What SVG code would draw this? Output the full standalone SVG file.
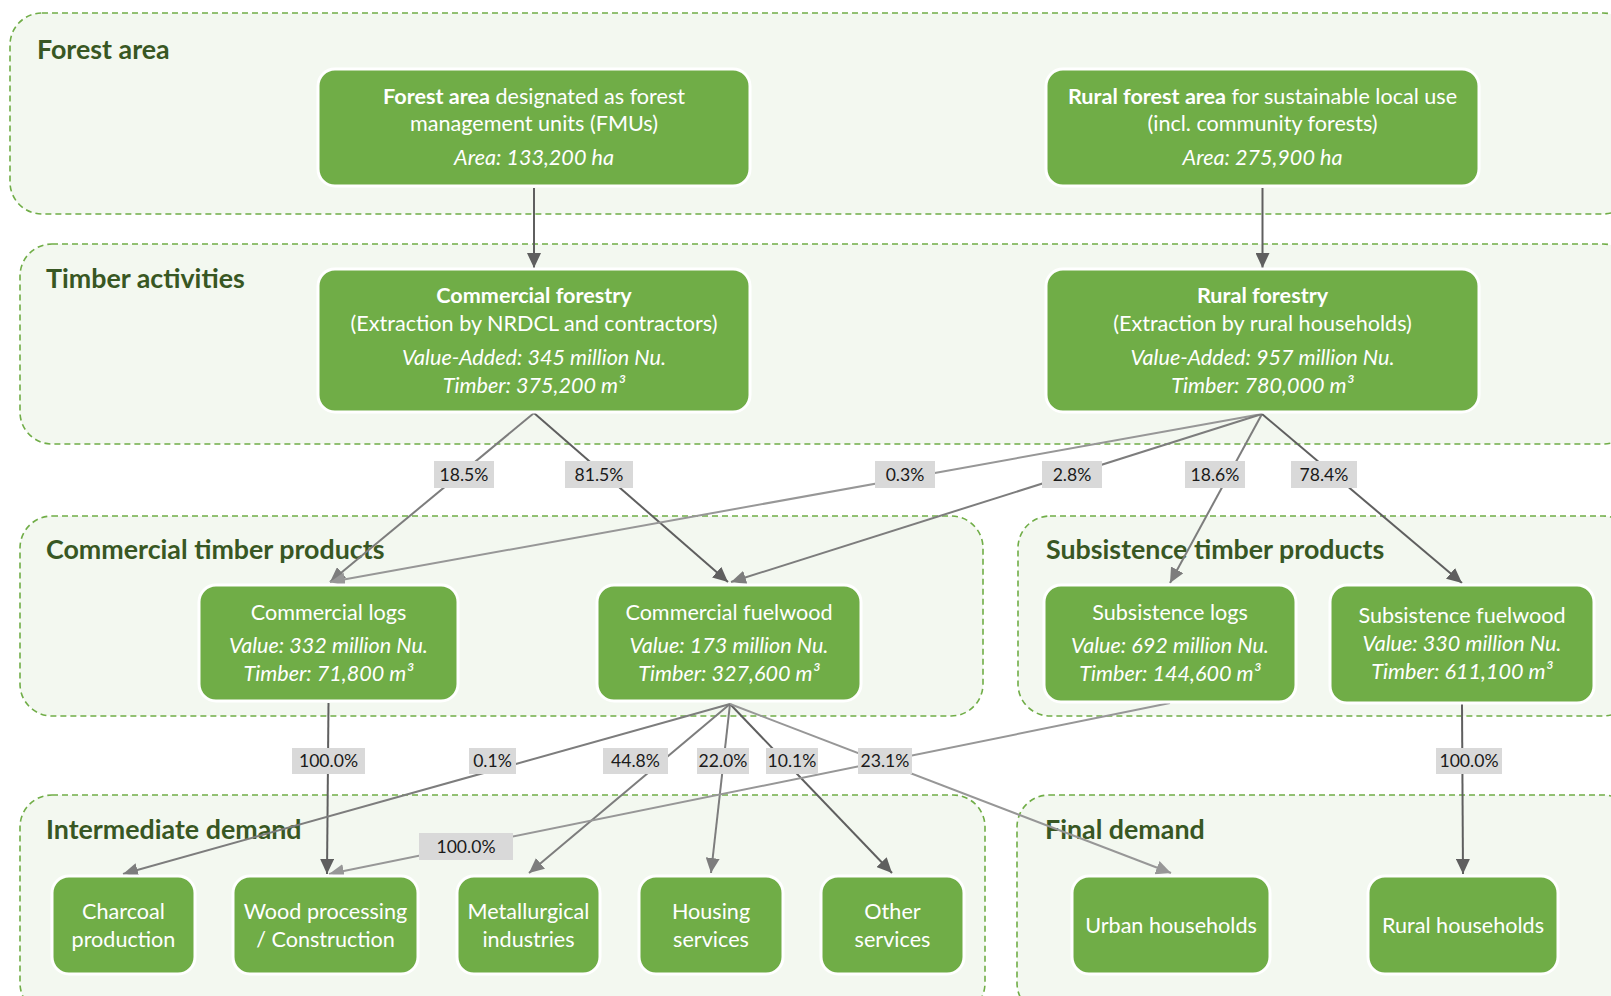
<svg xmlns="http://www.w3.org/2000/svg" width="1611" height="996" viewBox="0 0 1611 996">
<style>
.cont{fill:#f3f8f0;stroke:#70ad47;stroke-width:1.6;stroke-dasharray:6 4}
.title{font-family:Lato,"Liberation Sans",sans-serif;font-weight:bold;font-size:26.8px;fill:#385723}
.node rect{fill:#70ad47;stroke:#ffffff;stroke-width:3}
.nt{font-family:Lato,"Liberation Sans",sans-serif;font-size:21.6px;fill:#ffffff;text-anchor:middle}
.it{font-style:italic}
.b{font-weight:bold}
.lbl rect{fill:#d9d9d9}
.lbl text{font-family:Lato,"Liberation Sans",sans-serif;font-size:17.6px;fill:#1a1a1a;text-anchor:middle}
.dk{stroke:#5f5f5f;stroke-width:2;fill:none;marker-end:url(#ad)}
.md{stroke:#7d7d7d;stroke-width:2;fill:none;marker-end:url(#am)}
.lt{stroke:#979797;stroke-width:2;fill:none;marker-end:url(#al)}
</style>
<defs>
<marker id="ad" markerUnits="userSpaceOnUse" markerWidth="16" markerHeight="14" refX="15" refY="7" orient="auto"><path d="M0,0 L15,7 L0,14 z" fill="#5f5f5f"/></marker>
<marker id="am" markerUnits="userSpaceOnUse" markerWidth="16" markerHeight="14" refX="15" refY="7" orient="auto"><path d="M0,0 L15,7 L0,14 z" fill="#7d7d7d"/></marker>
<marker id="al" markerUnits="userSpaceOnUse" markerWidth="16" markerHeight="14" refX="15" refY="7" orient="auto"><path d="M0,0 L15,7 L0,14 z" fill="#979797"/></marker>
</defs>
<rect width="1611" height="996" fill="#ffffff"/>

<g id="containers">
<rect class="cont" x="10" y="13" width="1625" height="201" rx="32"/>
<rect class="cont" x="20" y="244" width="1615" height="200" rx="32"/>
<rect class="cont" x="20" y="516" width="963" height="200" rx="32"/>
<rect class="cont" x="1018" y="516" width="617" height="200" rx="32"/>
<rect class="cont" x="20" y="795" width="965" height="220" rx="32"/>
<rect class="cont" x="1017" y="795" width="618" height="220" rx="32"/>
</g>
<g id="titles">
<text class="title" x="37" y="59">Forest area</text>
<text class="title" x="46" y="288">Timber activities</text>
<text class="title" x="46" y="559">Commercial timber products</text>
<text class="title" x="1046" y="559">Subsistence timber products</text>
<text class="title" x="46" y="839">Intermediate demand</text>
<text class="title" x="1045" y="839">Final demand</text>
</g>

<g id="connectors">
<path class="dk" d="M534,188 L534,268"/>
<path class="dk" d="M1262.5,188 L1262.5,268"/>
<path class="md" d="M534,413 L330,582"/>
<path class="dk" d="M534,413 L728,582"/>
<path class="lt" d="M1262,414 L330,582"/>
<path class="md" d="M1262,414 L731,582"/>
<path class="md" d="M1262,414 L1170,583"/>
<path class="dk" d="M1262,414 L1462,583"/>
<path class="dk" d="M328.5,703 L327,874"/>
<path class="md" d="M730,704 L123,874"/>
<path class="md" d="M730,704 L529,873"/>
<path class="md" d="M730,704 L711,873"/>
<path class="dk" d="M730,704 L892,873"/>
<path class="lt" d="M730,704 L1171,873"/>
<path class="lt" d="M1170,703 L329,874"/>
<path class="dk" d="M1462,704 L1463,874"/>
</g>

<g id="labels">
<g class="lbl"><rect x="434" y="461" width="60" height="27"/><text x="464" y="481">18.5%</text></g>
<g class="lbl"><rect x="565" y="461" width="68" height="27"/><text x="599" y="481">81.5%</text></g>
<g class="lbl"><rect x="875" y="461" width="60" height="27"/><text x="905" y="481">0.3%</text></g>
<g class="lbl"><rect x="1042" y="461" width="60" height="27"/><text x="1072" y="481">2.8%</text></g>
<g class="lbl"><rect x="1185" y="461" width="60" height="27"/><text x="1215" y="481">18.6%</text></g>
<g class="lbl"><rect x="1291" y="461" width="66" height="27"/><text x="1324" y="481">78.4%</text></g>
<g class="lbl"><rect x="292" y="748" width="73" height="26"/><text x="328.5" y="767">100.0%</text></g>
<g class="lbl"><rect x="469" y="748" width="47" height="26"/><text x="492.5" y="767">0.1%</text></g>
<g class="lbl"><rect x="603" y="748" width="65" height="26"/><text x="635.5" y="767">44.8%</text></g>
<g class="lbl"><rect x="697" y="748" width="52" height="26"/><text x="723" y="767">22.0%</text></g>
<g class="lbl"><rect x="766" y="748" width="52" height="26"/><text x="792" y="767">10.1%</text></g>
<g class="lbl"><rect x="858" y="748" width="54" height="26"/><text x="885" y="767">23.1%</text></g>
<g class="lbl"><rect x="1436" y="748" width="66" height="26"/><text x="1469" y="767">100.0%</text></g>
<g class="lbl"><rect x="419" y="833" width="94" height="27"/><text x="466" y="853">100.0%</text></g>
</g>

<g id="n-fmu" class="node"><rect x="318" y="69" width="432" height="117" rx="17"/>
<text class="nt" x="534" y="104"><tspan class="b">Forest area</tspan> designated as forest</text>
<text class="nt" x="534" y="131">management units (FMUs)</text>
<text class="nt it" x="534" y="165">Area: 133,200 ha</text></g>

<g id="n-rural-area" class="node"><rect x="1046" y="69" width="433" height="117" rx="17"/>
<text class="nt" x="1262.5" y="104"><tspan class="b">Rural forest area</tspan> for sustainable local use</text>
<text class="nt" x="1262.5" y="131">(incl. community forests)</text>
<text class="nt it" x="1262.5" y="165">Area: 275,900 ha</text></g>

<g id="n-commercial-forestry" class="node"><rect x="318" y="269" width="432" height="143" rx="17"/>
<text class="nt b" x="534" y="303">Commercial forestry</text>
<text class="nt" x="534" y="331">(Extraction by NRDCL and contractors)</text>
<text class="nt it" x="534" y="365">Value-Added: 345 million Nu.</text>
<text class="nt it" x="534" y="393">Timber: 375,200 m³</text></g>

<g id="n-rural-forestry" class="node"><rect x="1046" y="269" width="433" height="143" rx="17"/>
<text class="nt b" x="1262.5" y="303">Rural forestry</text>
<text class="nt" x="1262.5" y="331">(Extraction by rural households)</text>
<text class="nt it" x="1262.5" y="365">Value-Added: 957 million Nu.</text>
<text class="nt it" x="1262.5" y="393">Timber: 780,000 m³</text></g>

<g id="n-commercial-logs" class="node"><rect x="199" y="585" width="259" height="116" rx="17"/>
<text class="nt" x="328.5" y="620">Commercial logs</text>
<text class="nt it" x="328.5" y="653">Value: 332 million Nu.</text>
<text class="nt it" x="328.5" y="681">Timber: 71,800 m³</text></g>

<g id="n-commercial-fuelwood" class="node"><rect x="597" y="585" width="264" height="116" rx="17"/>
<text class="nt" x="729" y="620">Commercial fuelwood</text>
<text class="nt it" x="729" y="653">Value: 173 million Nu.</text>
<text class="nt it" x="729" y="681">Timber: 327,600 m³</text></g>

<g id="n-subsistence-logs" class="node"><rect x="1044" y="585" width="252" height="117" rx="17"/>
<text class="nt" x="1170" y="620">Subsistence logs</text>
<text class="nt it" x="1170" y="653">Value: 692 million Nu.</text>
<text class="nt it" x="1170" y="681">Timber: 144,600 m³</text></g>

<g id="n-subsistence-fuelwood" class="node"><rect x="1330" y="585" width="264" height="118" rx="17"/>
<text class="nt" x="1462" y="623">Subsistence fuelwood</text>
<text class="nt it" x="1462" y="651">Value: 330 million Nu.</text>
<text class="nt it" x="1462" y="679">Timber: 611,100 m³</text></g>

<g id="n-charcoal" class="node"><rect x="52" y="876" width="143" height="98" rx="17"/>
<text class="nt" x="123.5" y="919">Charcoal</text>
<text class="nt" x="123.5" y="947">production</text></g>

<g id="n-wood" class="node"><rect x="233" y="876" width="185" height="98" rx="17"/>
<text class="nt" x="325.5" y="919">Wood processing</text>
<text class="nt" x="325.5" y="947">/ Construction</text></g>

<g id="n-metallurgical" class="node"><rect x="457" y="876" width="143" height="98" rx="17"/>
<text class="nt" x="528.5" y="919">Metallurgical</text>
<text class="nt" x="528.5" y="947">industries</text></g>

<g id="n-housing" class="node"><rect x="639" y="876" width="144" height="98" rx="17"/>
<text class="nt" x="711" y="919">Housing</text>
<text class="nt" x="711" y="947">services</text></g>

<g id="n-other" class="node"><rect x="821" y="876" width="143" height="98" rx="17"/>
<text class="nt" x="892.5" y="919">Other</text>
<text class="nt" x="892.5" y="947">services</text></g>

<g id="n-urban" class="node"><rect x="1072" y="876" width="198" height="98" rx="17"/>
<text class="nt" x="1171" y="933">Urban households</text></g>

<g id="n-rural-hh" class="node"><rect x="1368" y="876" width="190" height="98" rx="17"/>
<text class="nt" x="1463" y="933">Rural households</text></g>
</svg>
